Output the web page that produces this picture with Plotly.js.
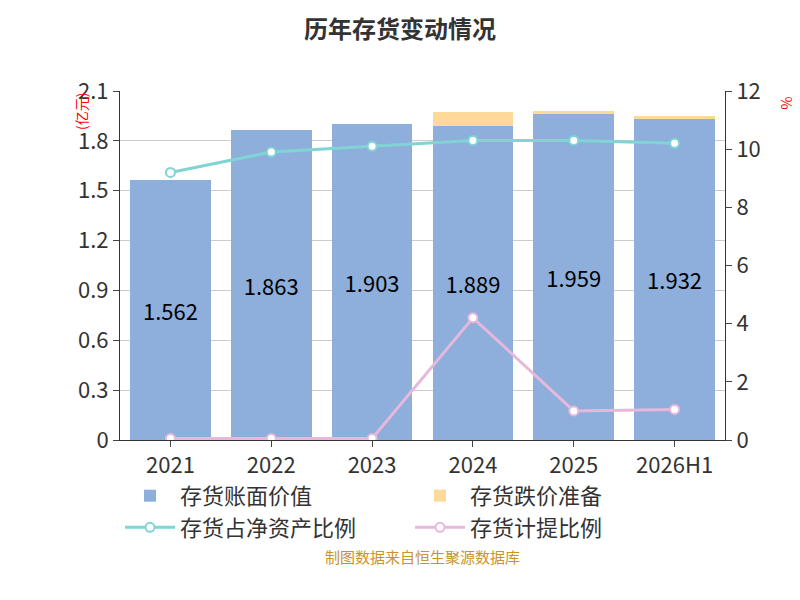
<!DOCTYPE html>
<html>
<head>
<meta charset="utf-8">
<script src="https://cdn.plot.ly/plotly-3.0.1.min.js"></script>
<style>body{margin:0;background:#fff}#chart{width:800px;height:600px}</style>
</head>
<body>
<div id="chart"></div>
<script>
const years = ['2021', '2022', '2023', '2024', '2025', '2026H1'];
const bookValue = [1.562, 1.863, 1.903, 1.889, 1.959, 1.932];
const reserve = [0, 0, 0, 0.086, 0.02, 0.02];
const netAssetRatio = [9.2, 9.9, 10.1, 10.3, 10.3, 10.2];
const provisionRatio = [0.05, 0.05, 0.05, 4.2, 1.0, 1.05];
const leftTicks = [0, 0.3, 0.6, 0.9, 1.2, 1.5, 1.8, 2.1];
const leftTickText = ['0', '0.3', '0.6', '0.9', '1.2', '1.5', '1.8', '2.1'];

const font = { family: 'Microsoft YaHei, Noto Sans CJK SC, sans-serif', color: '#333' };

const traces = [
    {
        x: years, y: bookValue, type: 'bar', name: '存货账面价值',
        marker: { color: '#8eaedb' },
        text: bookValue.map(v => v.toFixed(3)), textposition: 'inside', insidetextanchor: 'middle',
        textfont: { size: 22, color: '#000' }
    },
    {
        x: years, y: reserve, type: 'bar', name: '存货跌价准备',
        marker: { color: '#fdd99a' }
    },
    {
        x: years, y: netAssetRatio, type: 'scatter', mode: 'lines+markers', name: '存货占净资产比例',
        yaxis: 'y2', line: { color: '#80d4d4', width: 3 },
        marker: { size: 9, color: '#fff', line: { color: '#80d4d4', width: 2 } }
    },
    {
        x: years, y: provisionRatio, type: 'scatter', mode: 'lines+markers', name: '存货计提比例',
        yaxis: 'y2', line: { color: '#e6b8dc', width: 3 },
        marker: { size: 9, color: '#fff', line: { color: '#e6b8dc', width: 2 } }
    }
];

const layout = {
    width: 800, height: 600,
    barmode: 'stack', bargap: 0.2,
    font: font,
    title: { text: '<b>历年存货变动情况</b>', x: 0.5, y: 0.965, font: { size: 24, color: '#333' } },
    margin: { l: 120, r: 75, t: 91, b: 160 },
    showlegend: true,
    legend: {
        orientation: 'h', x: 0.0, y: -0.1, xanchor: 'left', yanchor: 'top',
        font: { size: 22, color: '#333' }, traceorder: 'normal', entrywidth: 225, itemwidth: 50
    },
    xaxis: { type: 'category', tickfont: { size: 22 }, showline: true, linecolor: '#333', ticks: 'outside', ticklen: 6 },
    yaxis: {
        range: [0, 2.1], tickvals: leftTicks, ticktext: leftTickText, tickfont: { size: 22 },
        showline: true, linecolor: '#333', ticks: 'outside', ticklen: 6,
        gridcolor: '#ccc', zeroline: false
    },
    yaxis2: {
        overlaying: 'y', side: 'right', range: [0, 12], dtick: 2, tickfont: { size: 22 },
        showline: true, linecolor: '#333', ticks: 'outside', ticklen: 6, showgrid: false, zeroline: false
    },
    annotations: [
        {
            text: '制图数据来自恒生聚源数据库', xref: 'paper', yref: 'paper', x: 0.5, y: -0.37,
            showarrow: false, font: { size: 15, color: '#c8952a' }
        },
        {
            text: '(亿元)', xref: 'paper', yref: 'paper', x: -0.085, y: 1.0, yanchor: 'top',
            textangle: -90, showarrow: false, font: { size: 14, color: 'red' }
        },
        {
            text: '%', xref: 'paper', yref: 'paper', x: 1.12, y: 0.99, yanchor: 'top',
            textangle: -90, showarrow: false, font: { size: 14, color: 'red' }
        }
    ]
};

Plotly.newPlot('chart', traces, layout, { displayModeBar: false });
</script>
</body>
</html>
